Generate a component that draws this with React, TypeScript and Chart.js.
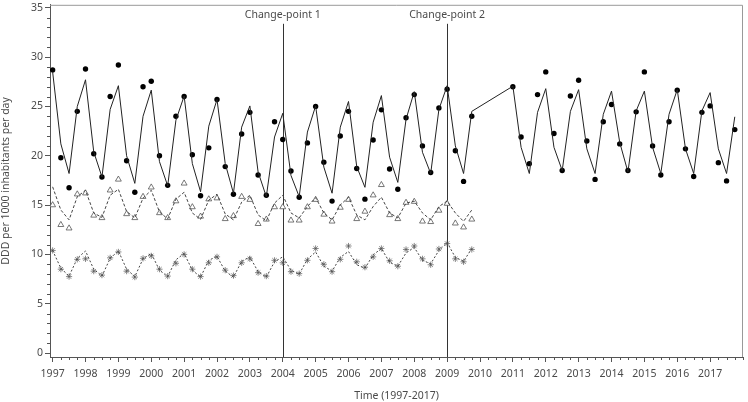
import React, { useEffect, useRef } from 'react';
import { Chart, registerables } from 'chart.js';

Chart.register(...registerables);

// ---- categories (time) ----
const yearsPre = [1997, 1998, 1999, 2000, 2001, 2002, 2003, 2004, 2005, 2006, 2007, 2008, 2009];
const yearsPost = [2011, 2012, 2013, 2014, 2015, 2016, 2017];
const quarterOffsets = [0, 0.25, 0.5, 0.75];
const timePre = yearsPre.flatMap((y) => quarterOffsets.map((q) => y + q));
const timePost = yearsPost.flatMap((y) => quarterOffsets.map((q) => y + q));

// ---- total use (filled circles) ----
const totalObservedPre = [
  28.7, 19.8, 16.75, 24.5,
  28.8, 20.2, 17.85, 26.0,
  29.2, 19.5, 16.3, 27.0,
  27.55, 20.0, 17.0, 24.0,
  26.0, 20.1, 15.95, 20.8,
  25.7, 18.9, 16.1, 22.2,
  24.4, 18.05, 16.0, 23.45,
  21.65, 18.45, 15.8, 21.3,
  25.0, 19.35, 15.4, 22.0,
  24.5, 18.7, 15.6, 21.6,
  24.65, 18.65, 16.6, 23.85,
  26.2, 21.0, 18.3, 24.85,
  26.75, 20.5, 17.4, 24.0,
];
const totalObservedPost = [
  27.0, 21.9, 19.2, 26.2,
  28.5, 22.25, 18.5, 26.05,
  27.65, 21.5, 17.6, 23.45,
  25.2, 21.2, 18.5, 24.45,
  28.5, 21.0, 18.05, 23.45,
  26.65, 20.7, 17.9, 24.4,
  25.05, 19.3, 17.45, 22.65,
];
const totalFittedPre = [
  28.5, 21.2, 18.2, 25.0,
  27.7, 20.4, 17.85, 24.7,
  27.1, 20.0, 17.2, 24.0,
  26.65, 19.4, 16.95, 23.6,
  26.05, 19.2, 16.35, 23.0,
  25.7, 19.2, 16.2, 22.9,
  25.05, 18.35, 15.85, 21.9,
  24.3, 18.0, 15.85, 22.4,
  25.05, 18.85, 16.2, 22.9,
  25.5, 18.9, 16.8, 23.4,
  26.1, 19.85, 17.3, 23.7,
  26.5, 20.35, 18.2, 24.7,
  27.1, 21.0, 18.2, 24.5,
];
const totalFittedPost = [
  27.05, 20.85, 18.2, 24.4,
  26.8, 20.85, 18.5, 24.5,
  26.7, 20.7, 18.2, 24.2,
  26.55, 21.35, 18.35, 24.55,
  26.55, 20.85, 18.2, 24.2,
  26.7, 20.7, 18.2, 24.55,
  26.4, 20.7, 18.2, 23.95,
];

// ---- triangles ----
const triangleObserved = [
  15.0, 13.0, 12.65, 16.1,
  16.2, 13.95, 13.7, 16.5,
  17.6, 14.1, 13.7, 15.85,
  16.8, 14.2, 13.7, 15.4,
  17.2, 14.8, 13.85, 15.6,
  15.7, 13.6, 13.9, 15.85,
  15.55, 13.1, 13.55, 14.8,
  14.8, 13.45, 13.45, 14.8,
  15.55, 14.05, 13.35, 14.75,
  15.55, 13.6, 14.35, 16.0,
  17.05, 14.0, 13.6, 15.25,
  15.35, 13.35, 13.3, 14.45,
  15.15, 13.15, 12.75, 13.55,
];
const triangleFitted = [
  16.85, 14.5, 13.5, 15.85,
  16.5, 14.2, 13.75, 16.0,
  16.6, 14.35, 13.7, 15.7,
  16.5, 14.3, 13.6, 15.6,
  16.3, 14.2, 13.55, 15.5,
  16.1, 14.1, 13.5, 15.3,
  16.0, 14.0, 13.4, 15.2,
  16.0, 14.2, 13.7, 14.85,
  15.75, 14.2, 13.5, 15.0,
  15.8, 14.0, 13.5, 14.85,
  15.8, 14.2, 13.7, 15.2,
  15.4, 14.2, 13.5, 14.85,
  15.4, 14.2, 13.35, 14.5,
];

// ---- asterisks ----
const asteriskObserved = [
  10.4, 8.5, 7.75, 9.5,
  9.55, 8.3, 7.9, 9.65,
  10.25, 8.3, 7.7, 9.6,
  9.85, 8.5, 7.8, 9.1,
  10.0, 8.5, 7.75, 9.15,
  9.75, 8.4, 7.85, 9.15,
  9.55, 8.15, 7.8, 9.4,
  9.15, 8.25, 8.05, 9.4,
  10.6, 9.0, 8.25, 9.5,
  10.85, 9.25, 8.7, 9.75,
  10.6, 9.35, 8.8, 10.5,
  10.85, 9.55, 8.95, 10.55,
  11.1, 9.55, 9.25, 10.5,
];
const asteriskFitted = [
  10.4, 8.6, 7.8, 9.6,
  10.35, 8.5, 7.8, 9.6,
  10.35, 8.5, 7.75, 9.55,
  10.1, 8.4, 7.75, 9.45,
  10.1, 8.4, 7.7, 9.4,
  9.8, 8.3, 7.7, 9.3,
  9.75, 8.25, 7.7, 9.25,
  9.75, 8.4, 8.0, 9.5,
  10.25, 8.8, 8.3, 9.7,
  10.3, 8.95, 8.6, 9.95,
  10.6, 9.2, 8.8, 10.15,
  10.7, 9.4, 9.05, 10.4,
  11.2, 9.7, 9.3, 10.6,
];

// ---- axes / annotations ----
const xTickYears = [1997, 1998, 1999, 2000, 2001, 2002, 2003, 2004, 2005, 2006, 2007, 2008, 2009, 2010, 2011, 2012, 2013, 2014, 2015, 2016, 2017];
const yTickValues = [0, 5, 10, 15, 20, 25, 30, 35];
const changePoints = [2004, 2009];
const changePointLabels = ['Change-point 1', 'Change-point 2'];

const FONT = "'Noto Sans', 'DejaVu Sans', sans-serif";
const TEXT = '#4a4a4a';
const AXIS = '#555';

const zip = (xs: number[], ys: number[]) => xs.map((x, i) => ({ x, y: ys[i] }));

const decorPlugin = {
  id: 'decor',
  beforeDatasetsDraw(chart: any) {
    const { ctx, chartArea, scales } = chart;
    const x = scales.x;
    const y = scales.y;
    ctx.save();
    // frame top/right
    ctx.strokeStyle = '#999';
    ctx.lineWidth = 1;
    ctx.beginPath();
    ctx.moveTo(chartArea.left, chartArea.top + 0.5);
    ctx.lineTo(chartArea.right - 0.5, chartArea.top + 0.5);
    ctx.lineTo(chartArea.right - 0.5, chartArea.bottom);
    ctx.stroke();
    // minor ticks
    ctx.strokeStyle = AXIS;
    ctx.beginPath();
    for (let v = 0; v <= 35; v += 1) {
      if (v % 5 === 0) continue;
      const py = Math.round(y.getPixelForValue(v)) + 0.5;
      ctx.moveTo(chartArea.left - 3, py);
      ctx.lineTo(chartArea.left, py);
    }
    for (let yr = 1997; yr <= 2017; yr++) {
      for (const q of [0.25, 0.5, 0.75, 1]) {
        const v = yr + q;
        if (v > x.max) continue;
        if (Number.isInteger(v) && v <= 2017) continue;
        const px = Math.round(x.getPixelForValue(v)) + 0.5;
        ctx.moveTo(px, chartArea.bottom);
        ctx.lineTo(px, chartArea.bottom + 3);
      }
    }
    ctx.stroke();
    // change-point lines
    ctx.strokeStyle = '#333';
    ctx.beginPath();
    changePoints.forEach((cp) => {
      const px = Math.round(x.getPixelForValue(cp)) + 0.5;
      ctx.moveTo(px, chartArea.top + 19);
      ctx.lineTo(px, chartArea.bottom);
    });
    ctx.stroke();
    ctx.font = `10.5px ${FONT}`;
    ctx.fillStyle = TEXT;
    ctx.textAlign = 'center';
    ctx.textBaseline = 'middle';
    changePoints.forEach((cp, i) => {
      const px = x.getPixelForValue(cp);
      ctx.fillText(changePointLabels[i], px, chartArea.top + 10);
    });
    ctx.restore();
  },
};

export default function App() {
  const ref = useRef<HTMLCanvasElement>(null);
  useEffect(() => {
    document.body.style.margin = '0';
    const canvas = ref.current;
    if (!canvas) return;
    const lineBase = {
      type: 'line' as const,
      pointRadius: 0,
      borderWidth: 1,
      borderColor: '#222',
      fill: false,
      tension: 0,
    };
    const chart = new Chart(canvas, {
      type: 'line',
      data: {
        datasets: [
          { ...lineBase, label: 'Total fit', data: [...zip(timePre, totalFittedPre), ...zip(timePost, totalFittedPost)] },
          { ...lineBase, label: 'Triangle fit', data: zip(timePre, triangleFitted), borderDash: [3, 2], borderColor: '#444' },
          { ...lineBase, label: 'Asterisk fit', data: zip(timePre, asteriskFitted), borderDash: [2, 2], borderColor: '#444' },
          {
            label: 'Total',
            data: [...zip(timePre, totalObservedPre), ...zip(timePost, totalObservedPost)],
            showLine: false,
            pointStyle: 'circle',
            pointRadius: 2.7,
            pointBackgroundColor: '#000',
            pointBorderColor: '#000',
            pointBorderWidth: 0,
          },
          {
            label: 'Triangles',
            data: zip(timePre, triangleObserved),
            showLine: false,
            pointStyle: 'triangle',
            pointRadius: 3.4,
            pointBackgroundColor: '#fff',
            pointBorderColor: '#555',
            pointBorderWidth: 0.8,
          },
          {
            label: 'Asterisks',
            data: zip(timePre, asteriskObserved),
            showLine: false,
            pointStyle: 'star',
            pointRadius: 3.1,
            pointBackgroundColor: '#555',
            pointBorderColor: '#555',
            pointBorderWidth: 0.7,
          },
        ],
      },
      options: {
        animation: false,
        responsive: true,
        maintainAspectRatio: false,
        layout: { padding: { top: 1, right: 5, left: 0, bottom: 0 } },
        plugins: { legend: { display: false }, tooltip: { enabled: false } },
        scales: {
          x: {
            type: 'linear',
            min: 1996.92,
            max: 2018.0,
            afterBuildTicks: (s: any) => { s.ticks = xTickYears.map((v) => ({ value: v })); },
            afterFit: (s: any) => { s.height = 45; s.paddingLeft = 0; s.paddingRight = 0; },
            ticks: {
              autoSkip: false,
              maxRotation: 0,
              padding: 6,
              color: TEXT,
              font: { family: FONT, size: 10.5 },
              callback: (v: any) => String(v),
            },
            grid: { display: true, drawOnChartArea: false, drawTicks: true, tickLength: 5, color: AXIS },
            border: { display: true, color: AXIS },
            title: {
              display: true,
              text: 'Time (1997-2017)',
              color: TEXT,
              font: { family: FONT, size: 10.5 },
              padding: { top: 0, bottom: 0 },
            },
          },
          y: {
            type: 'linear',
            min: -0.4,
            max: 35.3,
            afterBuildTicks: (s: any) => { s.ticks = yTickValues.map((v) => ({ value: v })); },
            afterFit: (s: any) => { s.width = 50; s.paddingTop = 0; s.paddingBottom = 0; },
            ticks: {
              padding: 2,
              color: TEXT,
              font: { family: FONT, size: 10.5 },
              callback: (v: any) => String(v),
            },
            grid: { display: true, drawOnChartArea: false, drawTicks: true, tickLength: 5, color: AXIS },
            border: { display: true, color: AXIS },
            title: {
              display: true,
              text: 'DDD per 1000 inhabitants per day',
              color: TEXT,
              font: { family: FONT, size: 10.5 },
              padding: { top: 0, bottom: 0 },
            },
          },
        },
      },
      plugins: [decorPlugin],
    } as any);
    return () => chart.destroy();
  }, []);
  return (
    <div style={{ position: 'relative', width: 748, height: 402 }}>
      <canvas ref={ref} />
    </div>
  );
}
